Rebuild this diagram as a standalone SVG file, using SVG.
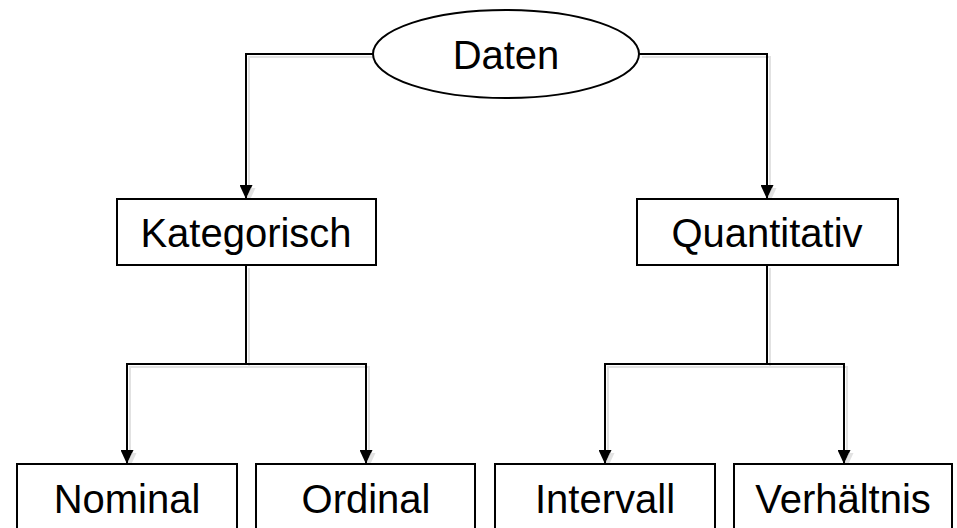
<svg xmlns="http://www.w3.org/2000/svg" width="957" height="528" viewBox="0 0 957 528">
<style>
.n{fill:#fff;stroke:#000;stroke-width:2}
.t{font-family:"Liberation Sans",Arial,sans-serif;font-size:40px;fill:#000;text-anchor:middle}
.c{fill:none;stroke:#000;stroke-width:2}
</style>
<defs>
<marker id="ah" viewBox="0 0 14 13" refX="14" refY="6.5" markerWidth="14" markerHeight="13" markerUnits="userSpaceOnUse" orient="auto">
<path d="M0,0 L14,6.5 L0,13 Z" fill="#000"/>
</marker>
<filter id="sh" x="-5%" y="-5%" width="110%" height="110%">
<feOffset in="SourceAlpha" dx="3" dy="3" result="o"/>
<feFlood flood-color="#e2e2e2"/>
<feComposite in2="o" operator="in" result="s"/>
<feMerge><feMergeNode in="s"/><feMergeNode in="SourceGraphic"/></feMerge>
</filter>
</defs>
<rect width="957" height="528" fill="#fff"/>
<g id="connectors" filter="url(#sh)">
<path class="c" d="M373,54 H246 V199" marker-end="url(#ah)"/>
<path class="c" d="M639,54 H767 V199" marker-end="url(#ah)"/>
<path class="c" d="M246,265 V364 H127 V464" marker-end="url(#ah)"/>
<path class="c" d="M246,364 H366 V464" marker-end="url(#ah)"/>
<path class="c" d="M767,265 V364 H605 V464" marker-end="url(#ah)"/>
<path class="c" d="M767,364 H844 V464" marker-end="url(#ah)"/>
</g>
<g id="daten"><ellipse class="n" cx="506" cy="54" rx="133" ry="44"/><text class="t" x="506" y="69">Daten</text></g>
<g id="kategorisch"><rect class="n" x="117" y="199" width="259" height="66"/><text class="t" x="246" y="247">Kategorisch</text></g>
<g id="quantitativ"><rect class="n" x="637" y="199" width="261" height="66"/><text class="t" x="767" y="247">Quantitativ</text></g>
<g id="nominal"><rect class="n" x="17" y="464" width="220" height="90"/><text class="t" x="127" y="513">Nominal</text></g>
<g id="ordinal"><rect class="n" x="256" y="464" width="219" height="90"/><text class="t" x="366" y="513">Ordinal</text></g>
<g id="intervall"><rect class="n" x="495" y="464" width="220" height="90"/><text class="t" x="605" y="513">Intervall</text></g>
<g id="verhaeltnis"><rect class="n" x="734" y="464" width="218" height="90"/><text class="t" x="843" y="513">Verhältnis</text></g>
</svg>
